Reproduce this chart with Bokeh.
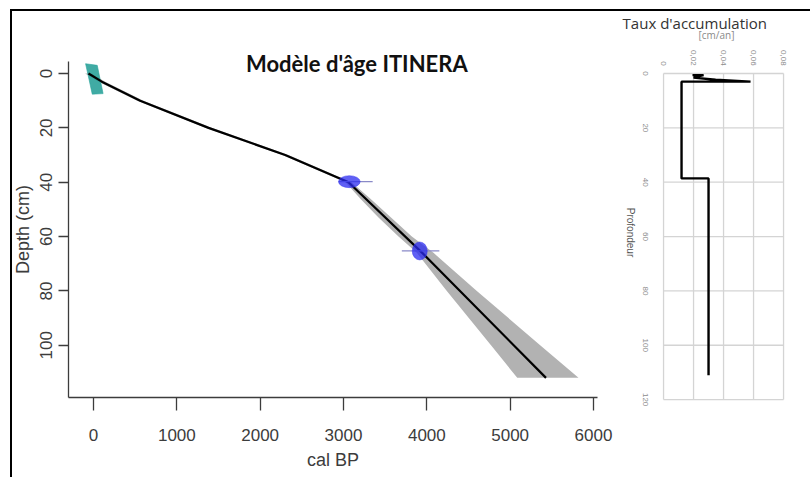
import math
from bokeh.plotting import figure
from bokeh.layouts import row
from bokeh.models import Range1d, FixedTicker, Label, LinearAxis
from bokeh.embed import file_html
from bokeh.resources import INLINE
from bokeh.core.properties import value

# ---------------- data ----------------
# age-depth model (mean)
model_depth = [0, 3, 10, 20, 30, 40, 66, 112]
model_age = [-60, 100, 560, 1380, 2300, 3060, 3945, 5430]
# min/max envelope of the model
band_depth = [0, 3, 10, 20, 30, 40, 46, 53, 60, 66, 80, 100, 112]
band_min = [-100, 60, 525, 1345, 2265, 3025, 3200, 3420, 3660, 3880, 4240, 4770, 5085]
band_max = [-20, 140, 600, 1420, 2340, 3095, 3320, 3570, 3820, 4080, 4600, 5360, 5820]
# surface date (calibrated shape)
surface_age = [-95, 45, 115, -15]
surface_depth = [-3.6, -3.0, 7.4, 7.6]
# radiocarbon dates
date_age = [3070, 3915]
date_depth = [39.8, 65.3]
date_spread = [260, 180]
date_thick = [4.4, 6.6]
date_err_low = [2940, 3700]
date_err_high = [3350, 4150]
age_ticks = [0, 1000, 2000, 3000, 4000, 5000, 6000]
depth_ticks = [0, 20, 40, 60, 80, 100]

# accumulation rate (cm/an) vs depth
rate_value = [0.0193, 0.0267, 0.0200, 0.0347, 0.058, 0.012, 0.012, 0.030, 0.030]
rate_depth = [0.6, 0.6, 1.5, 2.3, 3.0, 3.0, 38.6, 38.6, 111]
rate_ticks = [0, 0.02, 0.04, 0.06, 0.08]
rate_depth_ticks = [0, 20, 40, 60, 80, 100, 120]
rate_tick_labels = ["0" if t == 0 else ("%.2f" % t).replace(".", ",") for t in rate_ticks]
rate_depth_labels = [str(d) for d in rate_depth_ticks]

FONT = "Liberation Sans"
AX = "#3c3c3c"
AGE_MIN, AGE_MAX = -300, 6048          # extent of the age axis
DEPTH_TOP, DEPTH_BOTTOM = -4.42, 119.25  # extent of the depth axis

p = figure(width=800, height=468, x_range=Range1d(-972, 8628), y_range=Range1d(149.4, -22.82),
           x_axis_type=None, y_axis_type=None, output_backend="svg", toolbar_location=None,
           min_border=0)
p.extra_x_ranges = {"rate": Range1d(-0.434, 0.0993)}
p.outline_line_color = None
p.grid.visible = False
p.background_fill_color = "white"
p.border_fill_color = "white"

# ---------------- main age-depth plot ----------------
p.harea(y=band_depth, x1=band_min, x2=band_max, fill_color="#b2b2b2", fill_alpha=1.0)
p.patch(surface_age, surface_depth, fill_color="#1f9c94", fill_alpha=0.85,
        line_color="#2aa59c", line_alpha=0.6)
p.line(model_age, model_depth, line_color="black", line_width=2.2)
p.segment(x0=date_err_low, y0=date_depth, x1=date_err_high, y1=date_depth,
          line_color="#8a8ac8", line_width=1.2)
p.ellipse(x=date_age, y=date_depth, width=date_spread, height=date_thick,
          fill_color="#2b2bf0", fill_alpha=0.75, line_color="#3a3af0", line_alpha=0.5)

xaxis = LinearAxis(ticker=FixedTicker(ticks=age_ticks), fixed_location=DEPTH_BOTTOM,
                   bounds=(AGE_MIN, AGE_MAX), axis_label="cal BP")
yaxis = LinearAxis(ticker=FixedTicker(ticks=depth_ticks), fixed_location=AGE_MIN,
                   bounds=(DEPTH_TOP, DEPTH_BOTTOM), axis_label="Depth (cm)")
for ax in (xaxis, yaxis):
    ax.axis_line_color = AX
    ax.axis_line_width = 1.3
    ax.major_tick_line_color = AX
    ax.major_tick_line_width = 1.3
    ax.minor_tick_line_color = None
    ax.major_tick_in = 0
    ax.major_label_text_font = FONT
    ax.major_label_text_font_size = "17px"
    ax.major_label_text_color = AX
    ax.axis_label_text_font = FONT
    ax.axis_label_text_font_size = "18px"
    ax.axis_label_text_font_style = "normal"
    ax.axis_label_text_color = AX
xaxis.major_tick_out = 13
xaxis.major_label_standoff = 18
xaxis.axis_label_standoff = 6
yaxis.major_tick_out = 10
yaxis.major_label_standoff = 6
yaxis.major_label_orientation = "parallel"
yaxis.axis_label_standoff = 5
p.add_layout(xaxis, "below")
p.add_layout(yaxis, "left")

p.add_layout(Label(x=3160, y=-3.7, text="Modèle d'âge ITINERA", text_font="Lato",
                   text_font_style="bold", text_font_size="22px", text_align="center",
                   text_baseline="middle", text_color="#111111"))

# ---------------- accumulation rate plot ----------------
d_lo, d_hi = min(rate_depth_ticks), max(rate_depth_ticks)
r_lo, r_hi = min(rate_ticks), max(rate_ticks)
p.segment(x0=rate_ticks, y0=[d_lo] * len(rate_ticks), x1=rate_ticks, y1=[d_hi] * len(rate_ticks),
          line_color="#d4d4d4", line_width=1.3, x_range_name="rate")
p.segment(x0=[r_lo] * len(rate_depth_ticks), y0=rate_depth_ticks, x1=[r_hi] * len(rate_depth_ticks),
          y1=rate_depth_ticks, line_color="#d4d4d4", line_width=1.3, x_range_name="rate")
p.line(rate_value, rate_depth, line_color="black", line_width=2.4, x_range_name="rate")

p.text(x=rate_ticks, y=[-2.9] * len(rate_ticks), text=rate_tick_labels, angle=-math.pi / 2,
       text_align="right", text_baseline="middle", text_font=value(FONT),
       text_font_size="8px", text_color="#8c8c8c", x_range_name="rate")
p.text(x=[-0.012] * len(rate_depth_ticks), y=rate_depth_ticks, text=rate_depth_labels,
       angle=-math.pi / 2, text_align="center", text_baseline="middle", text_font=value(FONT),
       text_font_size="8px", text_color="#8c8c8c", x_range_name="rate")

p.add_layout(Label(x=0.0353, y=-14.0, text="[cm/an]", text_font="Open Sans",
                   text_font_size="10px", text_align="center", text_baseline="middle",
                   text_color="#8a8a8a", x_range_name="rate"))
p.add_layout(Label(x=-0.0273, y=-18.6, text="Taux d'accumulation", text_font="Open Sans",
                   text_font_size="15px", text_align="left", text_baseline="middle",
                   text_color="#333333", x_range_name="rate"))
p.add_layout(Label(x=-0.022, y=58.5, text="Profondeur", text_font=FONT,
                   text_font_size="10px", text_align="center", text_baseline="middle",
                   angle=-math.pi / 2, text_color="#555555", x_range_name="rate"))

layout = row(p, margin=(11, 0, 0, 12),
             styles={"box-shadow": "-2px -2px 0 0 black"})

open("out.html", "w").write(file_html(layout, INLINE))
